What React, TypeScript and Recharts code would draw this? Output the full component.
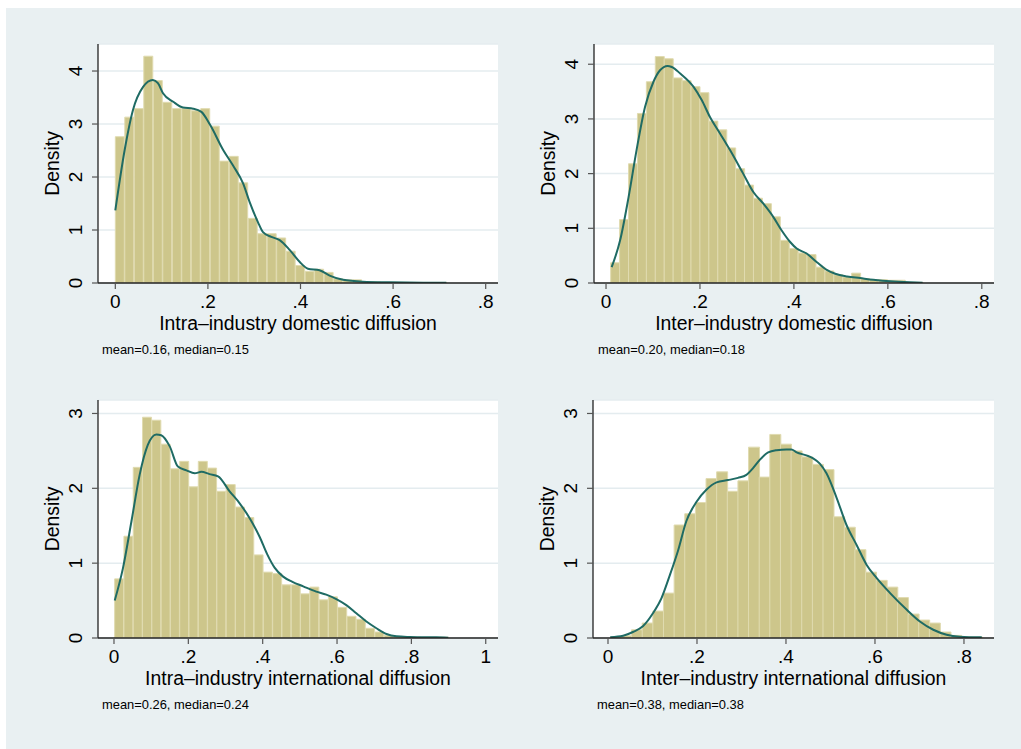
import { ComposedChart, Bar, Line, XAxis, YAxis, CartesianGrid } from "recharts";

const FONT = '"Liberation Sans", Arial, Helvetica, sans-serif';
const BG = "#e9f0f2";
const BAR_FILL = "#cdc68b";
const BAR_EDGE = "#e0dbb0";
const KDE_COLOR = "#1f6b64";

// Intra-industry domestic diffusion
const intraDomBinStart = 0;
const intraDomBinWidth = 0.0205;
const intraDomHeights = [
  2.76, 3.13, 3.29, 4.28, 3.82, 3.41, 3.29, 3.29, 3.25, 3.29,
  2.96, 2.3, 2.39, 1.89, 1.22, 0.93, 0.93, 0.85, 0.6, 0.33,
  0.22, 0.26, 0.2, 0.08, 0.06, 0.06, 0.02, 0.02, 0.01, 0.01,
  0.01, 0.01, 0.01, 0.01, 0.01,
];
const intraDomKdeX = [
  0, 0.02, 0.038, 0.06, 0.081, 0.092, 0.103, 0.125, 0.146, 0.168,
  0.186, 0.205, 0.233, 0.254, 0.276, 0.29, 0.308, 0.319, 0.337, 0.355,
  0.377, 0.398, 0.416, 0.441, 0.463, 0.492, 0.535, 0.593, 0.665, 0.715,
];
const intraDomKdeY = [
  1.37, 2.5, 3.26, 3.7, 3.83, 3.77, 3.58, 3.42, 3.31, 3.29,
  3.23, 2.98, 2.51, 2.22, 1.88, 1.53, 1.15, 0.96, 0.87, 0.81,
  0.62, 0.4, 0.27, 0.24, 0.14, 0.06, 0.025, 0.013, 0.006, 0.005,
];

// Inter-industry domestic diffusion
const interDomBinStart = 0.0099;
const interDomBinWidth = 0.019;
const interDomHeights = [
  0.37, 1.16, 2.18, 3.1, 3.68, 4.14, 4.1, 3.75, 3.7, 3.59,
  3.48, 2.96, 2.8, 2.47, 2.09, 1.79, 1.55, 1.45, 1.21, 0.78,
  0.63, 0.55, 0.52, 0.29, 0.22, 0.15, 0.11, 0.18, 0.08, 0.06,
  0.06, 0.05, 0.05, 0.01, 0.01,
];
const interDomKdeX = [
  0.012, 0.03, 0.048, 0.065, 0.083, 0.101, 0.115, 0.131, 0.14, 0.158,
  0.186, 0.204, 0.221, 0.243, 0.264, 0.292, 0.314, 0.335, 0.356, 0.374,
  0.392, 0.406, 0.427, 0.449, 0.47, 0.488, 0.513, 0.541, 0.569, 0.605,
  0.647, 0.674,
];
const interDomKdeY = [
  0.29, 0.78, 1.57, 2.43, 3.22, 3.68, 3.89, 3.97, 3.95, 3.83,
  3.59, 3.34, 3.04, 2.73, 2.43, 2.0, 1.66, 1.45, 1.21, 0.96,
  0.75, 0.63, 0.54, 0.38, 0.24, 0.17, 0.12, 0.09, 0.06, 0.03,
  0.012, 0.006,
];

// Intra-industry international diffusion
const intraIntBinStart = 0.0018;
const intraIntBinWidth = 0.025;
const intraIntHeights = [
  0.79, 1.36, 2.28, 2.95, 2.91, 2.59, 2.26, 2.36, 2.02, 2.36,
  2.27, 1.96, 2.05, 1.75, 1.61, 1.11, 0.88, 0.86, 0.71, 0.71,
  0.59, 0.68, 0.51, 0.55, 0.41, 0.29, 0.25, 0.13, 0.08, 0.035,
  0.02, 0.02, 0.01, 0.005, 0.005, 0.01,
];
const intraIntKdeX = [
  0.002, 0.024, 0.047, 0.069, 0.091, 0.114, 0.127, 0.15, 0.172, 0.195,
  0.217, 0.235, 0.257, 0.28, 0.311, 0.338, 0.365, 0.392, 0.412, 0.432,
  0.455, 0.48, 0.509, 0.544, 0.571, 0.598, 0.625, 0.652, 0.679, 0.706,
  0.733, 0.76, 0.796, 0.831, 0.867, 0.899,
];
const intraIntKdeY = [
  0.5, 0.93, 1.56, 2.18, 2.58, 2.72, 2.71, 2.56, 2.29, 2.24,
  2.2, 2.22, 2.19, 2.16, 1.96, 1.8, 1.6, 1.35, 1.12, 0.94,
  0.82, 0.75, 0.69, 0.62, 0.58, 0.52, 0.44, 0.33, 0.22, 0.13,
  0.053, 0.022, 0.013, 0.009, 0.009, 0.004,
];

// Inter-industry international diffusion
const interIntBinStart = 0.0052;
const interIntBinWidth = 0.0239;
const interIntHeights = [
  0.01, 0.03, 0.11, 0.2, 0.36, 0.6, 1.51, 1.66, 1.81, 2.13,
  2.22, 1.96, 2.1, 2.55, 2.15, 2.72, 2.59, 2.5, 2.42, 2.32,
  2.25, 1.62, 1.48, 1.18, 0.88, 0.77, 0.68, 0.54, 0.32, 0.24,
  0.2, 0.08, 0.035, 0.013, 0.01,
];
const interIntKdeX = [
  0.005, 0.034, 0.056, 0.079, 0.101, 0.12, 0.139, 0.157, 0.176, 0.199,
  0.221, 0.244, 0.27, 0.292, 0.311, 0.326, 0.341, 0.36, 0.379, 0.401,
  0.412, 0.424, 0.446, 0.461, 0.476, 0.491, 0.514, 0.536, 0.559, 0.581,
  0.604, 0.634, 0.671, 0.701, 0.731, 0.761, 0.791, 0.84,
];
const interIntKdeY = [
  0.01, 0.03, 0.08, 0.16, 0.33, 0.53, 0.84, 1.16, 1.56, 1.82,
  1.98, 2.08, 2.11, 2.14, 2.18, 2.27, 2.38, 2.48, 2.51, 2.52,
  2.52, 2.48, 2.44, 2.4, 2.33, 2.2, 1.87, 1.51, 1.24, 0.98,
  0.8, 0.6, 0.38, 0.22, 0.11, 0.044, 0.018, 0.009,
];

const ticks08 = [0, 0.2, 0.4, 0.6, 0.8];
const ticks10 = [0, 0.2, 0.4, 0.6, 0.8, 1];
const ticksY4 = [0, 1, 2, 3, 4];
const ticksY3 = [0, 1, 2, 3];

const Y_AXIS_W = 70;
const TOP_PAD = 4;
const X_AXIS_H = 80;

const fmtX = (v: number) => (v === 0 ? "0" : v === 1 ? "1" : String(v).replace(/^0/, ""));

function XTick({ x, y, payload }: any) {
  return (
    <text x={x} y={y} dy={13} textAnchor="middle" fontSize={19} fontFamily={FONT} fill="#000">
      {fmtX(payload.value)}
    </text>
  );
}

function YTick({ x, y, payload }: any) {
  return (
    <text
      x={x + 2}
      y={y}
      transform={`rotate(-90 ${x + 2} ${y})`}
      textAnchor="middle"
      fontSize={19}
      fontFamily={FONT}
      fill="#000"
    >
      {payload.value}
    </text>
  );
}

type PanelProps = {
  left: number;
  top: number;
  plotW: number;
  plotH: number;
  title: string;
  note: string;
  binStart: number;
  binWidth: number;
  heights: number[];
  kdeX: number[];
  kdeY: number[];
  xDomain: [number, number];
  yMax: number;
  xTicks: number[];
  yTicks: number[];
};

function Panel(p: PanelProps) {
  const bins = p.heights.map((h, i) => ({
    mid: p.binStart + (i + 0.5) * p.binWidth,
    density: h,
  }));
  const kde = p.kdeX.map((x, i) => ({ x, y: p.kdeY[i] }));
  const plotLeft = Y_AXIS_W;
  const plotTop = TOP_PAD;

  return (
    <div style={{ position: "absolute", left: p.left - Y_AXIS_W, top: p.top - TOP_PAD }}>
      <ComposedChart
        width={Y_AXIS_W + p.plotW + 8}
        height={TOP_PAD + p.plotH + X_AXIS_H}
        data={bins}
        margin={{ top: TOP_PAD, right: 8, bottom: 0, left: 0 }}
        barCategoryGap={0}
        barGap={0}
      >
        <CartesianGrid vertical={false} fill="#ffffff" stroke="#e4ecef" strokeWidth={1.5} />
        <XAxis
          xAxisId="bins"
          dataKey="mid"
          type="number"
          domain={p.xDomain}
          allowDataOverflow
          ticks={p.xTicks}
          interval={0}
          height={X_AXIS_H}
          tickSize={6}
          tickMargin={6}
          tick={<XTick />}
          axisLine={{ stroke: "#222", strokeWidth: 1.3 }}
          tickLine={{ stroke: "#555", strokeWidth: 1.2 }}
          label={() => (
            <g fontFamily={FONT}>
              <text x={plotLeft + p.plotW / 2} y={plotTop + p.plotH + 47} textAnchor="middle" fontSize={19.4} fill="#000">
                {p.title}
              </text>
              <text x={plotLeft + 4} y={plotTop + p.plotH + 71} fontSize={12.9} fill="#000">
                {p.note}
              </text>
            </g>
          )}
        />
        <XAxis xAxisId="kde" dataKey="x" type="number" domain={p.xDomain} allowDataOverflow hide />
        <YAxis
          type="number"
          domain={[0, p.yMax]}
          allowDataOverflow
          ticks={p.yTicks}
          interval={0}
          width={Y_AXIS_W}
          tickSize={6}
          tickMargin={12}
          tick={<YTick />}
          axisLine={{ stroke: "#222", strokeWidth: 1.3 }}
          tickLine={{ stroke: "#555", strokeWidth: 1.2 }}
          label={() => (
            <text
              x={plotLeft - 39}
              y={plotTop + p.plotH / 2}
              transform={`rotate(-90 ${plotLeft - 39} ${plotTop + p.plotH / 2})`}
              textAnchor="middle"
              fontSize={19.4}
              fontFamily={FONT}
              fill="#000"
            >
              Density
            </text>
          )}
        />
        <Bar
          xAxisId="bins"
          dataKey="density"
          fill={BAR_FILL}
          stroke={BAR_EDGE}
          strokeWidth={1}
          isAnimationActive={false}
        />
        <Line
          xAxisId="kde"
          data={kde}
          dataKey="y"
          type="monotone"
          stroke={KDE_COLOR}
          strokeWidth={2}
          dot={false}
          activeDot={false}
          isAnimationActive={false}
        />
      </ComposedChart>
    </div>
  );
}

export default function App() {
  return (
    <div style={{ position: "absolute", left: 0, top: 0, width: 1021, height: 749, background: "#fff", overflow: "hidden" }}>
      <div style={{ position: "absolute", left: 6, top: 8, right: 0, bottom: 0, background: BG }} />
      <Panel
        left={98}
        top={44}
        plotW={400}
        plotH={239}
        title="Intra–industry domestic diffusion"
        note="mean=0.16, median=0.15"
        binStart={intraDomBinStart}
        binWidth={intraDomBinWidth}
        heights={intraDomHeights}
        kdeX={intraDomKdeX}
        kdeY={intraDomKdeY}
        xDomain={[-0.0374, 0.8266]}
        yMax={4.51}
        xTicks={ticks08}
        yTicks={ticksY4}
      />
      <Panel
        left={594}
        top={44}
        plotW={400}
        plotH={239}
        title="Inter–industry domestic diffusion"
        note="mean=0.20, median=0.18"
        binStart={interDomBinStart}
        binWidth={interDomBinWidth}
        heights={interDomHeights}
        kdeX={interDomKdeX}
        kdeY={interDomKdeY}
        xDomain={[-0.0256, 0.826]}
        yMax={4.37}
        xTicks={ticks08}
        yTicks={ticksY4}
      />
      <Panel
        left={98}
        top={400}
        plotW={400}
        plotH={238}
        title="Intra–industry international diffusion"
        note="mean=0.26, median=0.24"
        binStart={intraIntBinStart}
        binWidth={intraIntBinWidth}
        heights={intraIntHeights}
        kdeX={intraIntKdeX}
        kdeY={intraIntKdeY}
        xDomain={[-0.043, 1.033]}
        yMax={3.18}
        xTicks={ticks10}
        yTicks={ticksY3}
      />
      <Panel
        left={593}
        top={400}
        plotW={401}
        plotH={238}
        title="Inter–industry international diffusion"
        note="mean=0.38, median=0.38"
        binStart={interIntBinStart}
        binWidth={interIntBinWidth}
        heights={interIntHeights}
        kdeX={interIntKdeX}
        kdeY={interIntKdeY}
        xDomain={[-0.0337, 0.8675]}
        yMax={3.18}
        xTicks={ticks08}
        yTicks={ticksY3}
      />
    </div>
  );
}
